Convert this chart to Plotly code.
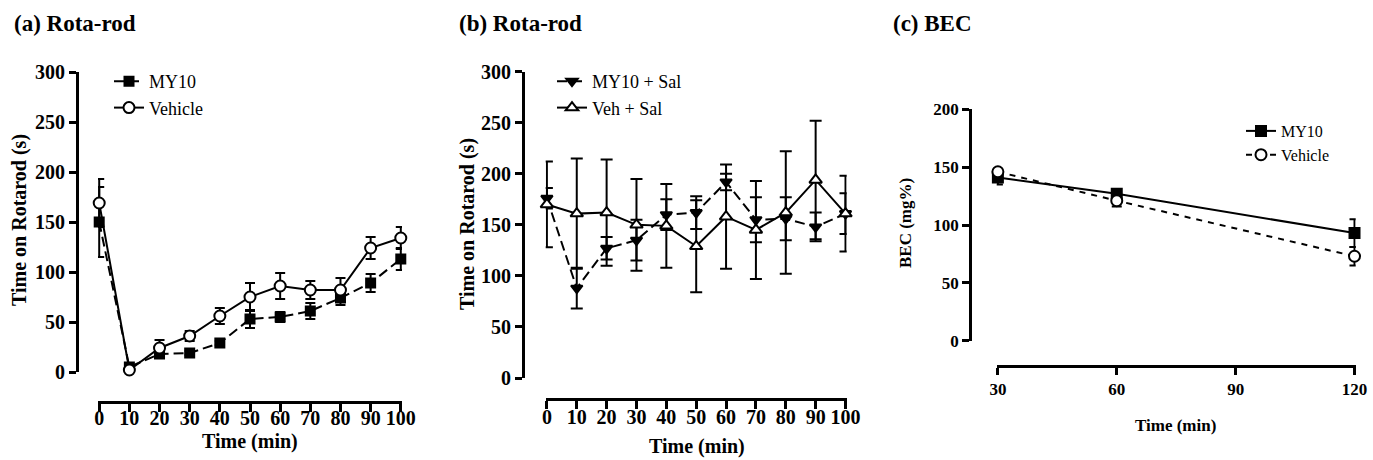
import plotly.graph_objects as go

# ---------------- data ----------------
time_rr = [0, 10, 20, 30, 40, 50, 60, 70, 80, 90, 100]

# (a) Rota-rod
a_my10 = [150, 5, 18, 19, 29, 53, 55, 61, 74, 89, 113]
a_my10_err = [35, 2, 4, 2, 2, 9, 5, 8, 7, 9, 11]
a_vehicle = [169, 2, 24, 36, 56, 75, 86, 82, 82, 124, 134]
a_vehicle_err = [24, 2, 8, 5, 8, 14, 13, 9, 12, 11, 11]

# (b) Rota-rod
b_my10_sal = [176, 88, 127, 135, 160, 162, 192, 155, 156, 148, 161]
b_my10_sal_err = [10, 20, 11, 20, 15, 16, 8, 22, 21, 14, 20]
b_veh_sal = [170, 161, 162, 150, 149, 129, 158, 145, 162, 194, 161]
b_veh_sal_err = [42, 54, 52, 45, 41, 45, 51, 48, 60, 58, 37]

# (c) BEC
time_bec = [30, 60, 120]
c_my10 = [141, 127, 93]
c_my10_err = [6, 4, 12]
c_vehicle = [146, 121, 73]
c_vehicle_err = [2, 5, 8]

rr_ticks = [0, 10, 20, 30, 40, 50, 60, 70, 80, 90, 100]
rr_yticks = [0, 50, 100, 150, 200, 250, 300]
bec_xticks = [30, 60, 90, 120]
bec_yticks = [0, 50, 100, 150, 200]

FONT = "Liberation Serif"
W, H = 1373, 460


def px_x(p):
    return p / W


def px_y(p):
    return 1 - p / H


fig = go.Figure()


def add_series(x, y, err, xa, ya, name, dash, symbol, fill, size, legend, ew):
    fig.add_trace(go.Scatter(
        x=x, y=y, name=name, xaxis=xa, yaxis=ya, mode="lines+markers",
        line=dict(color="black", width=2, dash=dash),
        marker=dict(symbol=symbol, size=size, color=fill,
                    line=dict(color="black", width=2)),
        error_y=dict(type="data", array=err, visible=True, color="black",
                     thickness=2, width=ew),
        cliponaxis=False, legend=legend, legendgroup=name + legend,
    ))


DASH_AB = "10px,5px"
DASH_C = "6px,6px"

add_series(time_rr, a_my10, a_my10_err, "x", "y", "MY10", DASH_AB, "square", "black", 9, "legend", 5)
add_series(time_rr, a_vehicle, a_vehicle_err, "x", "y", "Vehicle", "solid", "circle", "white", 11, "legend", 5)

add_series(time_rr, b_my10_sal, b_my10_sal_err, "x2", "y2", "MY10 + Sal", DASH_AB, "triangle-down", "black", 10, "legend2", 6)
add_series(time_rr, b_veh_sal, b_veh_sal_err, "x2", "y2", "Veh + Sal", "solid", "triangle-up", "white", 11, "legend2", 6)

add_series(time_bec, c_my10, c_my10_err, "x3", "y3", "MY10", "solid", "square", "black", 10, "legend3", 5)
add_series(time_bec, c_vehicle, c_vehicle_err, "x3", "y3", "Vehicle", DASH_C, "circle", "white", 11, "legend3", 5)

tick_font = dict(family=FONT, size=20, color="black", weight="bold")
tick_font_c = dict(family=FONT, size=17, color="black", weight="bold")


def axis(domain, rng, position, tickvals, font, lw, ticklen, standoff=0):
    return dict(domain=domain, range=rng, anchor="free", position=position,
                showline=True, linecolor="black", linewidth=lw,
                ticks="outside", ticklen=ticklen, tickwidth=lw, tickcolor="black",
                tickmode="array", tickvals=tickvals, tickfont=font,
                ticklabelstandoff=standoff,
                showgrid=False, zeroline=False, fixedrange=True, automargin=False)


layout = dict(
    width=W, height=H, margin=dict(l=0, r=0, t=0, b=0, autoexpand=False),
    paper_bgcolor="white", plot_bgcolor="white", showlegend=True,
    font=dict(family=FONT, color="black"),
    xaxis=axis([px_x(98), px_x(402)], [-0.4, 100.4], px_y(402), rr_ticks, tick_font, 3, 8, -11),
    yaxis=axis([px_y(372), px_y(72)], [0, 300], px_x(77), rr_yticks, tick_font, 3, 7),
    xaxis2=axis([px_x(545.7), px_x(846.7)], [-0.4, 100.4], px_y(399), rr_ticks, tick_font, 3, 8, -9),
    yaxis2=axis([px_y(378), px_y(71.7)], [0, 300], px_x(523), rr_yticks, tick_font, 3, 7),
    xaxis3=axis([px_x(996.7), px_x(1355.7)], [29.7, 120.3], px_y(366), bec_xticks, tick_font_c, 2.5, 7),
    yaxis3=axis([px_y(340.7), px_y(109.3)], [0, 200], px_x(970), bec_yticks, tick_font_c, 2.5, 7),
    legend=dict(x=px_x(109), y=px_y(63), xanchor="left", yanchor="top",
                bgcolor="rgba(0,0,0,0)", font=dict(family=FONT, size=18),
                tracegroupgap=0, itemwidth=30),
    legend2=dict(x=px_x(552), y=px_y(63), xanchor="left", yanchor="top",
                 bgcolor="rgba(0,0,0,0)", font=dict(family=FONT, size=18),
                 tracegroupgap=0, itemwidth=30),
    legend3=dict(x=px_x(1241), y=px_y(114), xanchor="left", yanchor="top",
                 bgcolor="rgba(0,0,0,0)", font=dict(family=FONT, size=16),
                 tracegroupgap=0, itemwidth=30),
)
fig.update_layout(**layout)

bold = dict(family=FONT, color="black", weight="bold")
annotations = [
    dict(text="(a) Rota-rod", x=px_x(12), y=px_y(23), xanchor="left", yanchor="middle", font=dict(size=23, **bold)),
    dict(text="(b) Rota-rod", x=px_x(457), y=px_y(23), xanchor="left", yanchor="middle", font=dict(size=23, **bold)),
    dict(text="(c) BEC", x=px_x(891), y=px_y(23), xanchor="left", yanchor="middle", font=dict(size=23, **bold)),
    dict(text="Time on Rotarod (s)", x=px_x(19), y=px_y(220), textangle=-90, xanchor="center", yanchor="middle", font=dict(size=20, **bold)),
    dict(text="Time (min)", x=px_x(250), y=px_y(441), xanchor="center", yanchor="middle", font=dict(size=20, **bold)),
    dict(text="Time on Rotarod (s)", x=px_x(467), y=px_y(224), textangle=-90, xanchor="center", yanchor="middle", font=dict(size=20, **bold)),
    dict(text="Time (min)", x=px_x(697), y=px_y(446), xanchor="center", yanchor="middle", font=dict(size=20, **bold)),
    dict(text="BEC (mg%)", x=px_x(905), y=px_y(223), textangle=-90, xanchor="center", yanchor="middle", font=dict(size=17, **bold)),
    dict(text="Time (min)", x=px_x(1175), y=px_y(425), xanchor="center", yanchor="middle", font=dict(size=17, **bold)),
]
for a in annotations:
    a.update(xref="paper", yref="paper", showarrow=False)
fig.update_layout(annotations=annotations)

fig.write_html("out.html")
